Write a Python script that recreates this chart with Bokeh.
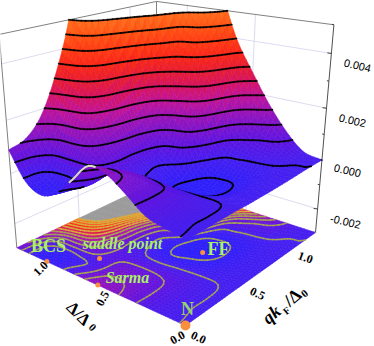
import numpy as np
from bokeh.plotting import figure
from bokeh.models import Range1d
from bokeh.core.properties import value
from bokeh.embed import file_html
from bokeh.resources import INLINE

# ---- data -----------------------------------------------------------------
delta_max = 1.25
q_max = 1.25
z_min, z_max = -0.003, 0.005
# surface height in units of 1e-4; rows: Delta/Delta_max = 0,.1,..1; columns: q/q_max = 0,.1,..1
z_row_00 = [-.3, -.3, -.3, -.3, -.5, -.5, -.5, -.4, -.2, 0, 0]
z_row_01 = [.8, .5, .5, .2, -.6, -1.5, -1.5, -1, -.2, .5, 1.5]
z_row_02 = [2.5, 3, 3, 1, -2.5, -4.5, -4.5, -3, .5, 3.5, 8]
z_row_03 = [7.5, 7, 5.5, 1, -4, -7, -6.5, -3, 1.5, 6, 17]
z_row_04 = [12, 9.5, 6.5, .5, -5, -6, -4.5, 0, 5, 14, 28]
z_row_05 = [13, 9, 6, 1, -1, -1.5, 5, 15, 25, 33, 40]
z_row_06 = [6, 1.5, 3.5, 4, 3, 4, 9, 24, 38, 48, 58]
z_row_07 = [-1, -1.5, 7, 11, 14, 16, 22, 36, 45, 60, 75]
z_row_08 = [-4, -3.5, 9, 22, 30, 36, 46, 60, 75, 90, 110]
z_row_09 = [-1, 0, 10, 28, 44, 60, 75, 90, 110, 130, 150]
z_row_10 = [9, 11, 18, 32, 52, 85, 110, 130, 150, 170, 190]
z_levels = [-5, 0, 5, 10, 15, 20, 25, 30, 35, 40, 45, 50]
z_ticks = [-0.002, 0.0, 0.002, 0.004]
z_minor = [-0.003, -0.001, 0.001, 0.003, 0.005]
point_delta = [0.0, 0.59, 0.785, 0.99, 0.376]
point_q = [0.0, 0.0, 0.21, 0.0, 0.63]
delta_ticks = [0.5, 1.0]
q_ticks = [0.5, 1.0]
cmap_z = [-7, -5, 0, 5, 10, 15, 20, 25, 30, 35, 40, 45, 50]
cmap_r = [45, 50, 70, 95, 125, 160, 195, 215, 232, 250, 255, 255, 255]
cmap_g = [30, 30, 30, 20, 20, 20, 20, 20, 30, 40, 60, 85, 110]
cmap_b = [250, 250, 240, 225, 205, 180, 150, 95, 50, 25, 20, 20, 30]

Z = np.array([z_row_00, z_row_01, z_row_02, z_row_03, z_row_04, z_row_05,
              z_row_06, z_row_07, z_row_08, z_row_09, z_row_10], dtype=float)

# ---- camera: three vanishing points + origin ------------------------------
VP1, VP2, VP3, ORG = (-787, -123), (838, -142), (160, 1982), (185, 325)
A, B, C = 0.21, 0.2486, -0.1325

def proj(u, v, z):
    w = (np.asarray(z) * 1.0 - z_min) / (z_max - z_min)
    s, t, k = A * np.asarray(u), B * np.asarray(v), C * w
    d = 1 + s + t + k
    x = (s * VP1[0] + t * VP2[0] + k * VP3[0] + ORG[0]) / d
    y = (s * VP1[1] + t * VP2[1] + k * VP3[1] + ORG[1]) / d
    return x, y

# ---- smooth drawing mesh through the table (Catmull-Rom) ------------------
def upsample(M, f):
    n = M.shape[0]
    idx = np.linspace(0, n - 1, (n - 1) * f + 1)
    i = np.clip(np.floor(idx).astype(int), 0, n - 2)
    t = idx - i
    P = np.vstack([2 * M[0] - M[1], M, 2 * M[-1] - M[-2]])
    p0, p1, p2, p3 = P[i], P[i + 1], P[i + 2], P[i + 3]
    t = t[:, None]
    return 0.5 * (2 * p1 + (p2 - p0) * t + (2 * p0 - 5 * p1 + 4 * p2 - p3) * t ** 2 + (3 * p1 - p0 - 3 * p2 + p3) * t ** 3)

F = 5
Zf = upsample(upsample(Z, F).T, F).T
N = Zf.shape[0]
uu = np.linspace(0, 1, N)
vv = np.linspace(0, 1, N)

def col(z):
    r = np.interp(z, cmap_z, cmap_r); g = np.interp(z, cmap_z, cmap_g); b = np.interp(z, cmap_z, cmap_b)
    return "#%02x%02x%02x" % (int(r), int(g), int(b))

def clip_poly(pts, top):
    out = []
    for i in range(len(pts)):
        a, b = pts[i], pts[(i + 1) % len(pts)]
        ina, inb = a[2] <= top, b[2] <= top
        if ina:
            out.append(a)
        if ina != inb:
            r = (top - a[2]) / (b[2] - a[2])
            out.append(tuple(a[k] + r * (b[k] - a[k]) for k in range(3)))
    return out

def contour_segments(cell, lev):
    lev = lev + 1e-5
    pts = []
    for i in range(4):
        a, b = cell[i], cell[(i + 1) % 4]
        if (a[2] - lev) * (b[2] - lev) < 0:
            r = (lev - a[2]) / (b[2] - a[2])
            pts.append((a[0] + r * (b[0] - a[0]), a[1] + r * (b[1] - a[1])))
    return pts[:2] if len(pts) >= 2 else None

def ribbon(x0, y0, x1, y1, w):
    dx, dy = x1 - x0, y1 - y0
    L = max(np.hypot(dx, dy), 1e-6)
    nx, ny = -dy / L * w / 2, dx / L * w / 2
    ex, ey = dx / L * .3, dy / L * .3
    return ([x0 - ex + nx, x1 + ex + nx, x1 + ex - nx, x0 - ex - nx],
            [y0 - ey + ny, y1 + ey + ny, y1 + ey - ny, y0 - ey - ny])

def build(surface):
    items = []
    base_z = z_min
    for i in range(N - 1):
        for j in range(N - 1):
            key = -(i + j)
            cell = [(uu[i], vv[j], Zf[i, j]), (uu[i + 1], vv[j], Zf[i + 1, j]),
                    (uu[i + 1], vv[j + 1], Zf[i + 1, j + 1]), (uu[i], vv[j + 1], Zf[i, j + 1])]
            zc = np.mean([c[2] for c in cell])
            if surface:
                poly = clip_poly(cell, 50.0)
                if len(poly) < 3:
                    continue
                px, py = proj([p[0] for p in poly], [p[1] for p in poly], [p[2] * 1e-4 for p in poly])
                items.append((key, list(px), list(py), col(min(zc, 50))))
            else:
                px, py = proj([c[0] for c in cell], [c[1] for c in cell], [base_z] * 4)
                items.append((key, list(px), list(py), "#9a9a9a" if zc > 50 else col(zc)))
            for lev in z_levels:
                seg = contour_segments(cell, lev)
                if seg is None:
                    continue
                (u0, v0), (u1, v1) = seg
                zz = lev * 1e-4 if surface else base_z
                x0, y0 = proj(u0, v0, zz); x1, y1 = proj(u1, v1, zz)
                rx, ry = ribbon(float(x0), float(y0), float(x1), float(y1), 1.0 if surface else 0.8)
                items.append((key + 2.5, rx, ry, "#000000" if surface else ("#a8a850" if lev < 25 else "#d8b040")))
    items.sort(key=lambda it: it[0])
    return [it[1] for it in items], [it[2] for it in items], [it[3] for it in items]

p = figure(width=374, height=346, x_range=Range1d(0, 374), y_range=Range1d(346, 0),
           toolbar_location=None, output_backend="svg", min_border=0,
           margin=(0, 0, 0, 0), outline_line_color=None, background_fill_color="white")
p.axis.visible = False
p.grid.visible = False

# walls
wall = "#dcdcf0"
for zt in z_ticks:
    x, y = proj([1, 1, 0], [0, 1, 1], [zt] * 3)
    p.line(list(x), list(y), line_color=wall, line_width=1)
for t in delta_ticks:
    x, y = proj([t / delta_max] * 2, [1, 1], [z_min, z_max])
    p.line(list(x), list(y), line_color=wall, line_width=1)
for t in q_ticks:
    x, y = proj([1, 1], [t / q_max] * 2, [z_min, z_max])
    p.line(list(x), list(y), line_color=wall, line_width=1)
x, y = proj([1, 1, 1, 0, 0], [0, 0, 1, 1, 1], [z_min, z_max, z_max, z_max, z_min])
p.line(list(x[:4]), list(y[:4]), line_color="#808080", line_width=1)
x2, y2 = proj([1, 1], [1, 1], [z_min, z_max])
p.line(list(x2), list(y2), line_color="#808080", line_width=1)
x3, y3 = proj([0, 0], [1, 1], [z_min, z_max])
p.line(list(x3), list(y3), line_color="#505050", line_width=1)
for zt in z_ticks + z_minor:
    xt, yt = proj(0, 1, zt)
    L = 4 if zt in z_ticks else 2
    p.line([float(xt), float(xt) - L], [float(yt), float(yt) - .5], line_color="#404040", line_width=1)

# base map and surface
bx, by, bc = build(False)
p.patches(bx, by, fill_color=bc, line_color=bc, line_width=0.6)
sx, sy, sc = build(True)
p.patches(sx, sy, fill_color=sc, line_color=sc, line_width=0.6)

# pale underside of the ridge along the q = 0 edge
edge = (uu >= 0.46) & (uu <= 0.62)
ex, ey = proj(uu[edge], 0 * uu[edge], Zf[edge, 0] * 1e-4)
p.line(list(ex), list(ey), line_color="#d4dcc4", line_width=2)

# marked points on the base
ptx, pty = proj(np.array(point_delta) / delta_max, np.array(point_q) / q_max, [z_min] * len(point_q))
p.scatter(list(ptx), list(pty), size=[10, 5, 5, 5, 5], fill_color="#f89040", line_color=None)

def label(x, y, s, size, color="#000000", style="bold", font="Liberation Serif", angle=0):
    p.text([x], [y], text=[s], text_font=value(font), text_font_size=f"{size}px", text_font_style=style,
           text_color=color, text_align="center", text_baseline="middle", angle=np.radians(angle))

green = "#a8f068"
label(48, 245, "BCS", 18, green)
label(122, 243, "saddle point", 16, green, "bold italic")
label(127, 277, "Sarma", 16, green, "bold italic")
label(218, 248, "FF", 18, green)
label(187, 308, "N", 18, "#94d070")

label(357, 65, "0.004", 11, style="normal", font="Liberation Sans", angle=-13)
label(352, 120, "0.002", 11, style="normal", font="Liberation Sans", angle=-13)
label(347, 170, "0.000", 11, style="normal", font="Liberation Sans", angle=-13)
label(345, 221, "-0.002", 11, style="normal", font="Liberation Sans", angle=-13)

label(40, 268, "1.0", 12, angle=45)
label(102, 298, "0.5", 12, angle=62)
label(177, 337, "0.0", 12, angle=30)
label(198, 337, "0.0", 12, angle=-25)
label(257, 293, "0.5", 12, angle=-25)
label(305, 257, "1.0", 12, angle=-20)

label(78, 313, "\u0394/\u0394", 17, angle=-45)
label(92, 327, "0", 11, angle=-45)
label(271, 314, "qk", 18, style="bold italic", angle=40)
label(286, 310, "F", 10, angle=40)
label(292, 297, "/\u0394", 18, angle=40)
label(304, 293, "0", 11, angle=40)

open("out.html", "w").write(file_html(p, INLINE))
